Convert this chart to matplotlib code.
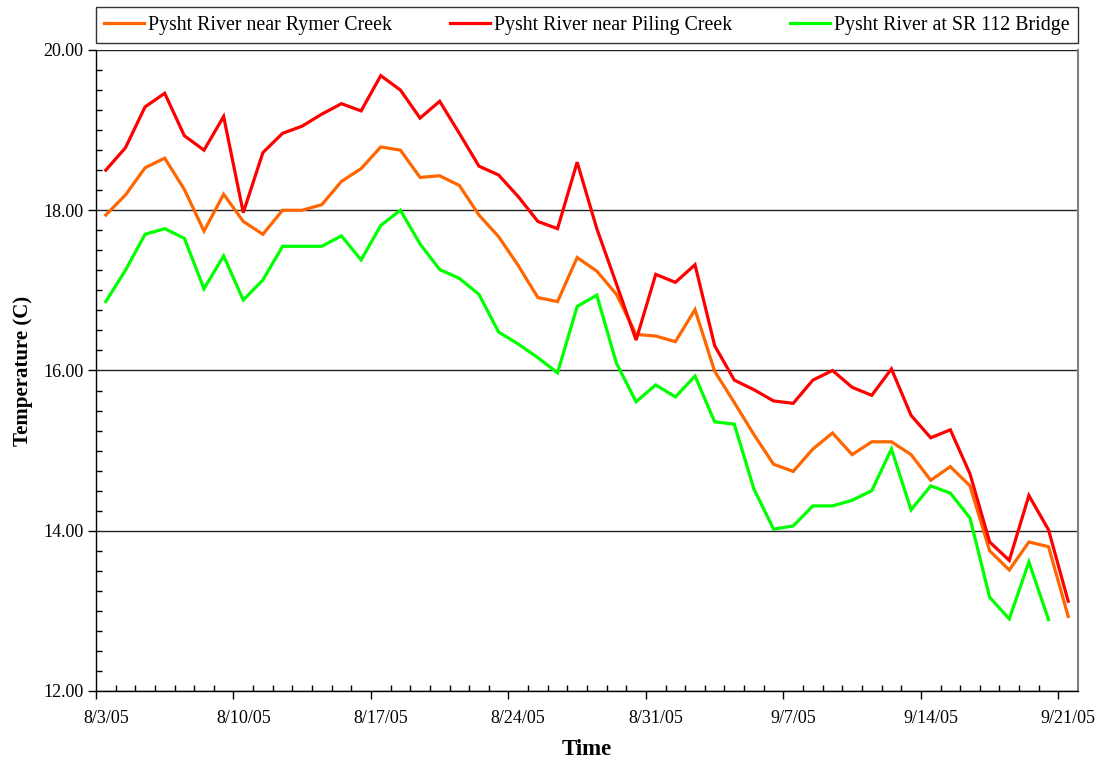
import matplotlib
matplotlib.use("Agg")
import matplotlib.pyplot as plt
import matplotlib.dates as mdates
import numpy as np
import pandas as pd

# daily readings 8/3/05 - 9/21/05
dates = pd.date_range("2005-08-03", "2005-09-21", freq="D")

rymer = [17.94, 18.19, 18.53, 18.65, 18.26, 17.74, 18.20, 17.86, 17.70, 18.00,
         18.00, 18.07, 18.36, 18.52, 18.79, 18.75, 18.41, 18.43, 18.31, 17.94,
         17.67, 17.31, 16.91, 16.86, 17.41, 17.24, 16.95, 16.45, 16.43, 16.36,
         16.76, 15.99, 15.60, 15.20, 14.83, 14.74, 15.02, 15.22, 14.95, 15.11,
         15.11, 14.95, 14.63, 14.80, 14.56, 13.75, 13.51, 13.86, 13.80, 12.93]

piling = [18.50, 18.78, 19.29, 19.46, 18.93, 18.75, 19.17, 17.97, 18.72, 18.96,
          19.05, 19.20, 19.33, 19.24, 19.68, 19.50, 19.15, 19.36, 18.96, 18.55,
          18.44, 18.17, 17.86, 17.77, 18.60, 17.77, 17.08, 16.38, 17.20, 17.10,
          17.32, 16.31, 15.88, 15.76, 15.62, 15.59, 15.88, 16.00, 15.79, 15.69,
          16.02, 15.44, 15.16, 15.26, 14.71, 13.86, 13.63, 14.44, 14.01, 13.12]

# no reading on the last day
sr112 = [16.86, 17.25, 17.70, 17.77, 17.65, 17.02, 17.43, 16.88, 17.13, 17.55,
         17.55, 17.55, 17.68, 17.38, 17.81, 18.00, 17.58, 17.26, 17.15, 16.95,
         16.48, 16.33, 16.16, 15.97, 16.80, 16.94, 16.09, 15.61, 15.82, 15.67,
         15.93, 15.36, 15.33, 14.52, 14.02, 14.06, 14.31, 14.31, 14.38, 14.50,
         15.02, 14.26, 14.56, 14.47, 14.16, 13.17, 12.90, 13.61, 12.89, np.nan]

labels = ["Pysht River near Rymer Creek", "Pysht River near Piling Creek",
          "Pysht River at SR 112 Bridge"]
colors = ["#FF6600", "#FF0000", "#00FF00"]

plt.rcParams["font.family"] = ["Liberation Serif", "DejaVu Serif"]

fig = plt.figure(figsize=(10.98, 7.61), dpi=100)
ax = fig.add_axes([0.0874, 0.092, 0.8944, 0.8423])

x = mdates.date2num(dates)
for vals, lab, col in zip([rymer, piling, sr112], labels, colors):
    ax.plot(x, vals, color=col, lw=2.3, label=lab, solid_joinstyle="miter")

ax.set_xlim(x[0] - 0.5, x[-1] + 0.5)
ax.set_ylim(12, 20)

# y axis
ax.set_yticks(np.arange(12, 20.01, 2))
ax.set_yticks(np.arange(12, 20.01, 0.25), minor=True)
ax.yaxis.set_major_formatter(matplotlib.ticker.FormatStrFormatter("%.2f"))
ax.tick_params(axis="y", which="major", direction="out", length=6, width=1,
               labelsize=13, pad=3)
ax.tick_params(axis="y", which="minor", direction="in", length=4, width=1)
ax.grid(axis="y", which="major", color="#222222", lw=1)

# x axis: labels centred on days, tick marks on day boundaries
wk = x[::7]
ax.set_xticks(wk)
ax.set_xticklabels([f"{d.month}/{d.day}/{d.strftime('%y')}" for d in dates[::7]])
bounds = [b for b in x - 0.5 if b not in set(wk - 0.5)]
ax.set_xticks(bounds, minor=True)
ax.tick_params(axis="x", which="major", length=0, labelsize=13, pad=14)
ax.tick_params(axis="x", which="minor", direction="in", length=4, width=1)
sec = ax.secondary_xaxis("bottom")
sec.set_xticks(wk - 0.5)
sec.tick_params(axis="x", direction="out", length=6, width=1, labelbottom=False)
sec.spines["bottom"].set_visible(False)

ax.spines["top"].set_visible(False)
ax.spines["right"].set_color("#808080")
ax.spines["right"].set_linewidth(1.5)
for s in ["left", "bottom"]:
    ax.spines[s].set_color("black")
    ax.spines[s].set_linewidth(1)

ax.set_xlabel("Time", fontsize=16.5, fontweight="bold", labelpad=8)
ax.set_ylabel("Temperature (C)", fontsize=15, fontweight="bold", labelpad=7)

leg = ax.legend(loc="lower left", bbox_to_anchor=(0, 1.011, 1, 0.056),
                mode="expand", ncol=3, fontsize=14.3, frameon=True,
                fancybox=False, edgecolor="black", borderaxespad=0,
                handlelength=2.0, handletextpad=0.2, borderpad=0.42)
leg.get_frame().set_linewidth(1)

fig.savefig("out.png", dpi=100)
